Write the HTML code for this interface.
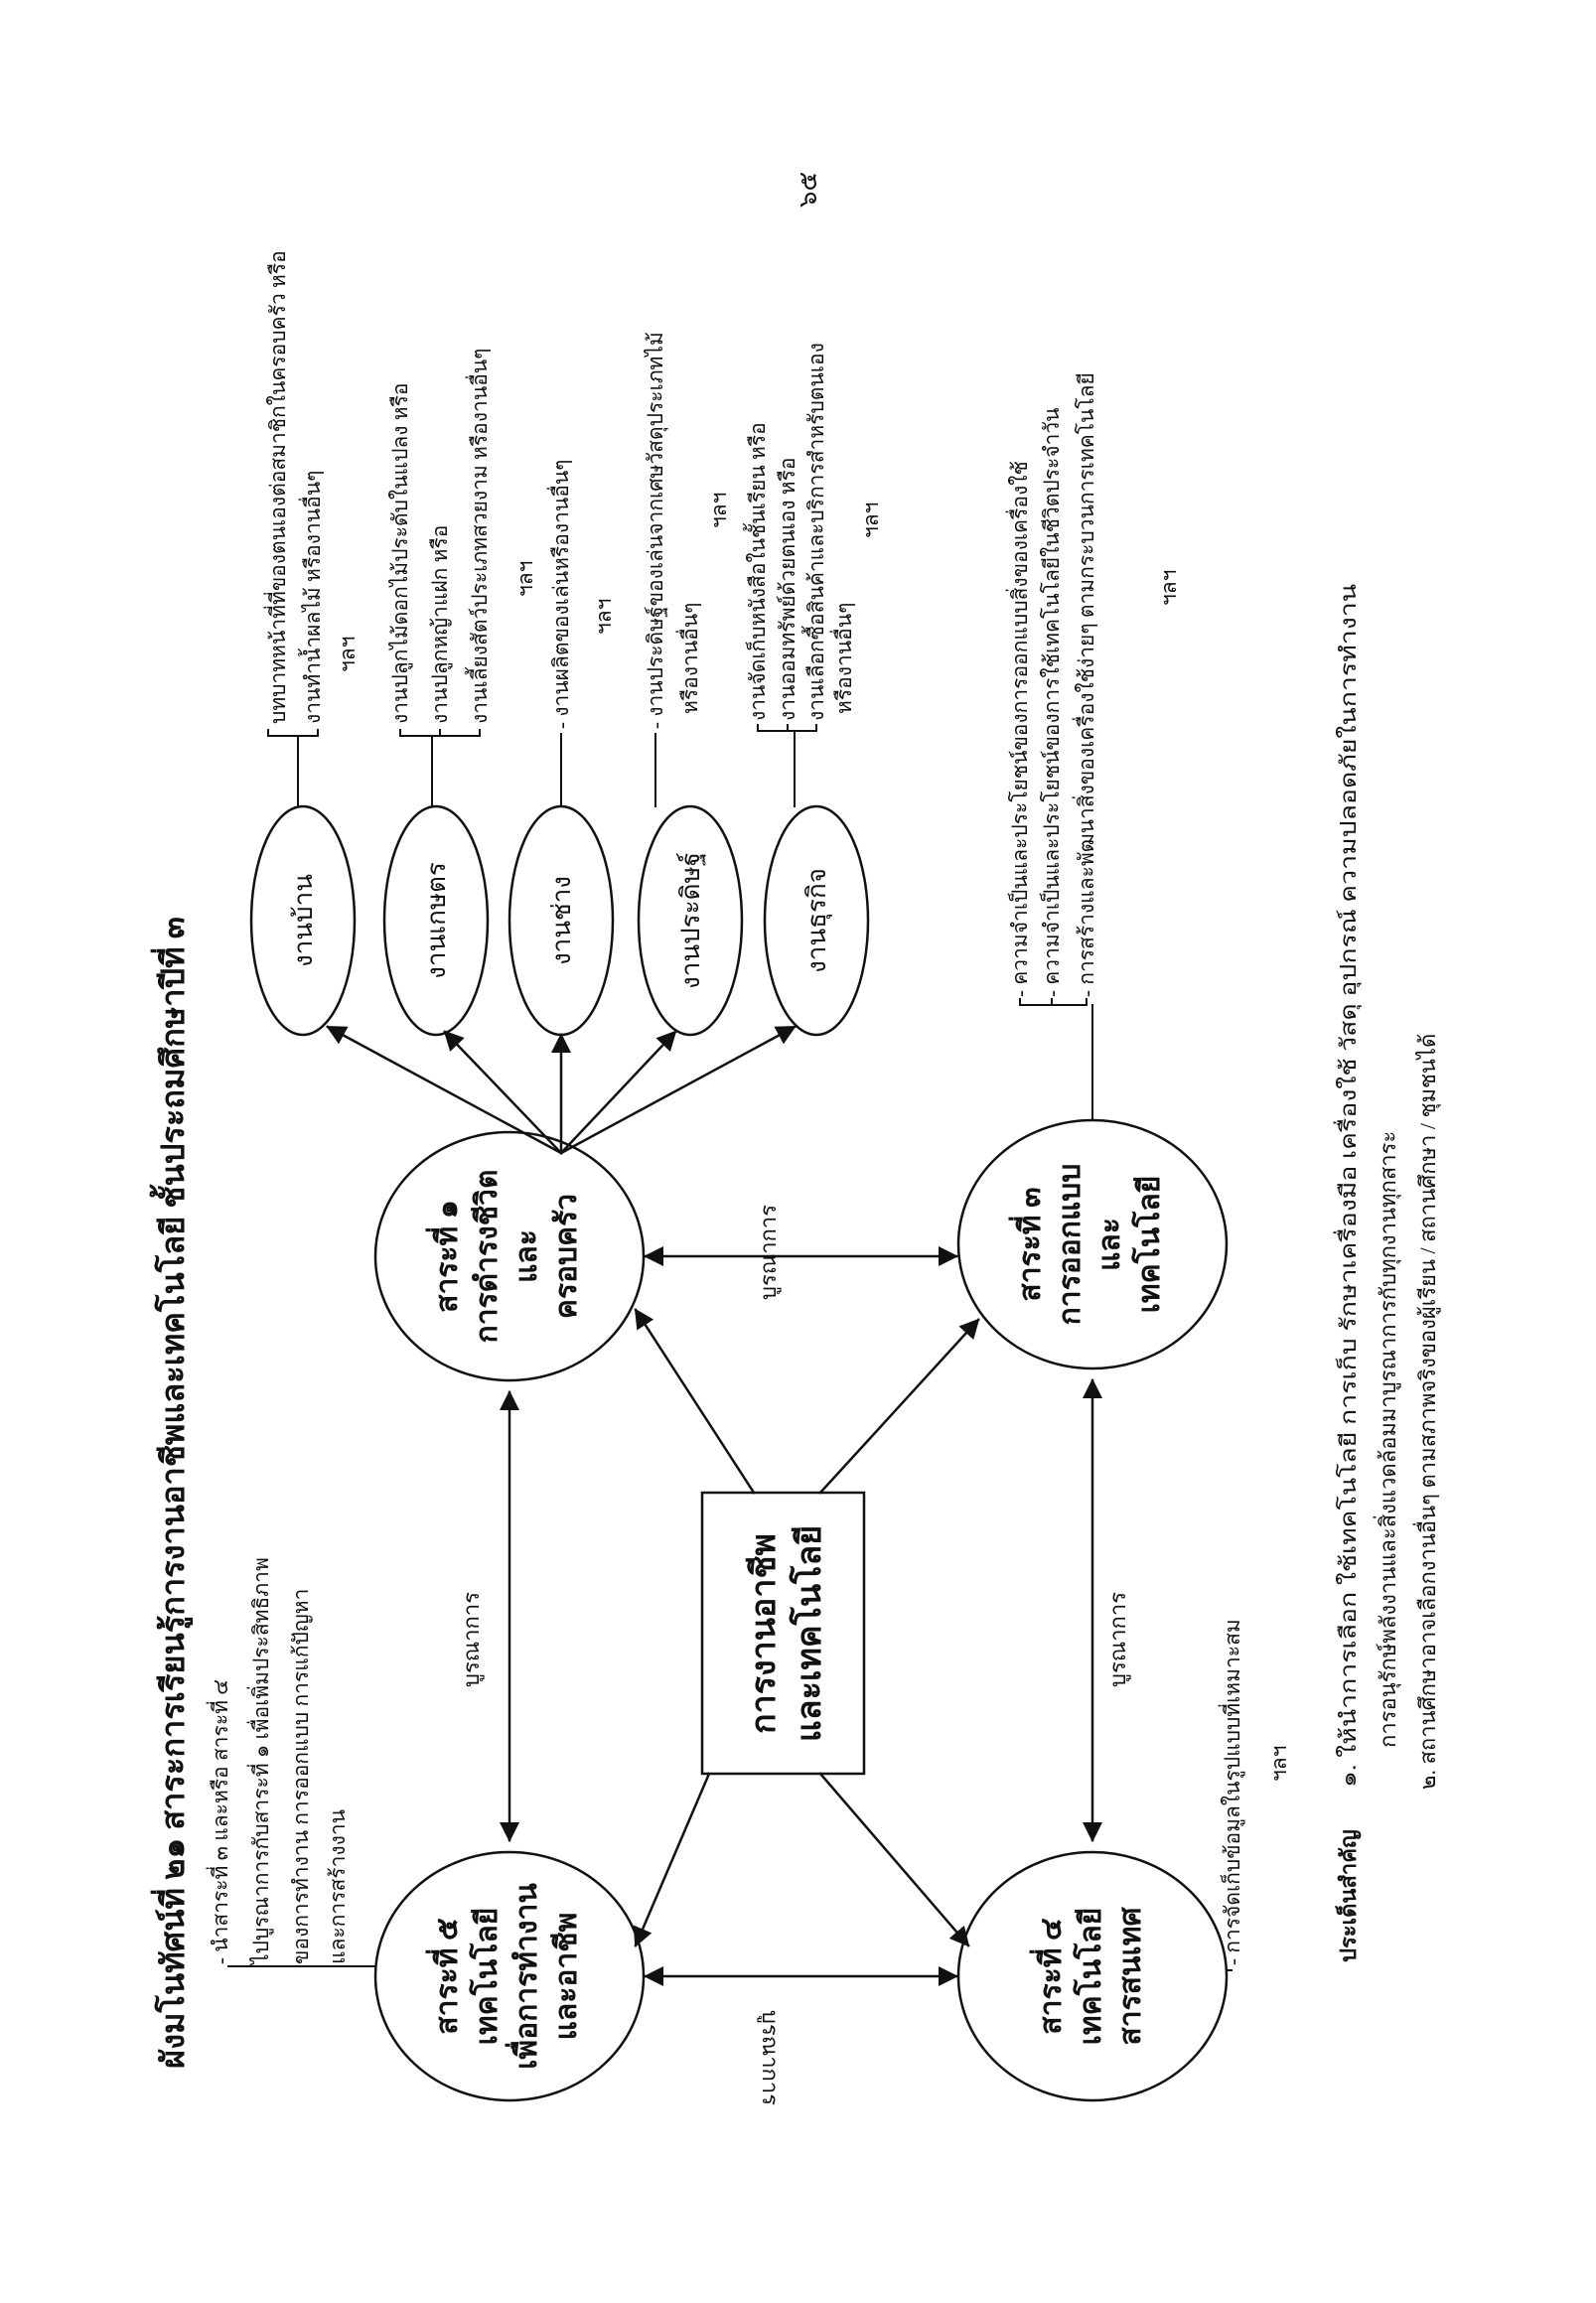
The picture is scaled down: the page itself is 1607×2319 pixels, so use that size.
<!DOCTYPE html>
<html><head><meta charset="utf-8"><style>
html,body{margin:0;padding:0;background:#fff;}
svg{display:block;}
text{font-family:"Liberation Serif","Noto Serif CJK SC","Noto Sans CJK SC",serif;fill:#111;}
.b{font-weight:bold;}
</style></head><body>
<svg width="1607" height="2319" viewBox="0 0 1607 2319" xmlns="http://www.w3.org/2000/svg">
<defs>
<marker id="ar" viewBox="0 0 10 10" refX="9" refY="5" markerWidth="9" markerHeight="9" orient="auto-start-reverse" markerUnits="userSpaceOnUse">
<path d="M0,0 L10,5 L0,10 z" fill="#111"/></marker>
<marker id="ar2" viewBox="0 0 10 10" refX="9" refY="5" markerWidth="20" markerHeight="20" orient="auto-start-reverse" markerUnits="userSpaceOnUse">
<path d="M0,0 L10,5 L0,10 z" fill="#111"/></marker>
</defs>
<g transform="translate(0,2319) rotate(-90)" stroke-linecap="square">
<!-- title -->
<text x="236" y="185" class="b" font-size="32" textLength="1160" lengthAdjust="spacingAndGlyphs">ผังมโนทัศน์ที่ ๒๑ สาระการเรียนรู้การงานอาชีพและเทคโนโลยี ชั้นประถมศึกษาปีที่ ๓</text>
<text x="2110" y="822" font-size="26">๖๕</text>

<!-- circles -->
<g fill="none" stroke="#111" stroke-width="2.5">
<ellipse cx="1054" cy="513" rx="125" ry="135"/>
<ellipse cx="1066" cy="1100" rx="125" ry="135"/>
<ellipse cx="329" cy="1100" rx="125" ry="135"/>
<ellipse cx="329" cy="513" rx="125" ry="135"/>
<rect x="533" y="707" width="283" height="163"/>
<ellipse cx="1392" cy="305" rx="115" ry="52"/>
<ellipse cx="1392" cy="439" rx="115" ry="52"/>
<ellipse cx="1392" cy="565" rx="115" ry="52"/>
<ellipse cx="1392" cy="695" rx="115" ry="52"/>
<ellipse cx="1392" cy="822" rx="115" ry="52"/>
</g>
<g class="b" font-size="30" text-anchor="middle">
<text x="1054" y="460">สาระที่ ๑</text><text x="1054" y="500">การดำรงชีวิต</text><text x="1054" y="540">และ</text><text x="1054" y="580">ครอบครัว</text>
<text x="1066" y="1047">สาระที่ ๓</text><text x="1066" y="1087">การออกแบบ</text><text x="1066" y="1127">และ</text><text x="1066" y="1167">เทคโนโลยี</text>
<text x="329" y="1068">สาระที่ ๔</text><text x="329" y="1108">เทคโนโลยี</text><text x="329" y="1148">สารสนเทศ</text>
<text x="329" y="460">สาระที่ ๕</text><text x="329" y="500">เทคโนโลยี</text><text x="329" y="540">เพื่อการทำงาน</text><text x="329" y="580">และอาชีพ</text>
<text x="674" y="780" font-size="34">การงานอาชีพ</text><text x="674" y="826" font-size="34">และเทคโนโลยี</text>
</g>
<g font-size="26" text-anchor="middle">
<text x="1392" y="314">งานบ้าน</text><text x="1392" y="448">งานเกษตร</text><text x="1392" y="574">งานช่าง</text><text x="1392" y="704">งานประดิษฐ์</text><text x="1392" y="831">งานธุรกิจ</text>
</g>

<!-- connectors -->
<g stroke="#111" stroke-width="2.5" fill="none">
<line x1="1054" y1="650" x2="1054" y2="963" marker-start="url(#ar2)" marker-end="url(#ar2)"/>
<line x1="917" y1="513" x2="466" y2="513" marker-start="url(#ar2)" marker-end="url(#ar2)"/>
<line x1="929" y1="1100" x2="466" y2="1100" marker-start="url(#ar2)" marker-end="url(#ar2)"/>
<line x1="329" y1="650" x2="329" y2="963" marker-start="url(#ar2)" marker-end="url(#ar2)"/>
<line x1="816" y1="759" x2="1000" y2="640" marker-end="url(#ar2)"/>
<line x1="816" y1="826" x2="990" y2="985" marker-end="url(#ar2)"/>
<line x1="533" y1="714" x2="360" y2="640" marker-end="url(#ar2)"/>
<line x1="533" y1="826" x2="360" y2="975" marker-end="url(#ar2)"/>
<line x1="1158" y1="565" x2="1285" y2="330" marker-end="url(#ar2)"/>
<line x1="1158" y1="565" x2="1280" y2="448" marker-end="url(#ar2)"/>
<line x1="1158" y1="565" x2="1277" y2="565" marker-end="url(#ar2)"/>
<line x1="1158" y1="565" x2="1280" y2="680" marker-end="url(#ar2)"/>
<line x1="1158" y1="565" x2="1285" y2="800" marker-end="url(#ar2)"/>
</g>
<g stroke="#111" stroke-width="2" fill="none">
<path d="M1507,300 H1578 M1578,270 V320 M1578,270 h6 M1578,320 h6"/>
<path d="M1507,435 H1578 M1578,403 V483 M1578,403 h6 M1578,443 h6 M1578,483 h6"/>
<path d="M1507,565 H1580"/>
<path d="M1507,660 H1580"/>
<path d="M1507,800 H1583 M1583,763 V822 M1583,763 h6 M1583,793 h6 M1583,822 h6"/>
<path d="M1191,1100 H1307 M1307,1027 V1094 M1307,1027 h6 M1307,1059 h6 M1307,1094 h6"/>
<path d="M335,1235 V1240"/>
<path d="M339,378 V230"/>
</g>

<!-- integration labels -->
<g font-size="22">
<text x="1010" y="781">บูรณาการ</text>
<text x="620" y="482">บูรณาการ</text>
<text x="620" y="1133">บูรณาการ</text>
<text transform="translate(295,768) rotate(180)">บูรณาการ</text>
</g>

<!-- lists -->
<g font-size="21">
<text x="1590" y="287">บทบาทหน้าที่ที่ของตนเองต่อสมาชิกในครอบครัว หรือ</text>
<text x="1590" y="322">งานทำน้ำผลไม้ หรืองานอื่นๆ</text>
<text x="1642" y="357">ฯลฯ</text>
<text x="1590" y="410">งานปลูกไม้ดอกไม้ประดับในแปลง หรือ</text>
<text x="1590" y="450">งานปลูกหญ้าแฝก หรือ</text>
<text x="1590" y="490">งานเลี้ยงสัตว์ประเภทสวยงาม หรืองานอื่นๆ</text>
<text x="1718" y="536">ฯลฯ</text>
<text x="1585" y="572">- งานผลิตของเล่นหรืองานอื่นๆ</text>
<text x="1680" y="615">ฯลฯ</text>
<text x="1585" y="667">- งานประดิษฐ์ของเล่นจากเศษวัสดุประเภทไม้</text>
<text x="1600" y="702">หรืองานอื่นๆ</text>
<text x="1787" y="731">ฯลฯ</text>
<text x="1593" y="770">งานจัดเก็บหนังสือในชั้นเรียน หรือ</text>
<text x="1593" y="800">งานออมทรัพย์ด้วยตนเอง หรือ</text>
<text x="1593" y="829">งานเลือกซื้อสินค้าและบริการสำหรับตนเอง</text>
<text x="1600" y="857">หรืองานอื่นๆ</text>
<text x="1777" y="884">ฯลฯ</text>
<text x="1315" y="1034">- ความจำเป็นและประโยชน์ของการออกแบบสิ่งของเครื่องใช้</text>
<text x="1315" y="1066">- ความจำเป็นและประโยชน์ของการใช้เทคโนโลยีในชีวิตประจำวัน</text>
<text x="1315" y="1101">- การสร้างและพัฒนาสิ่งของเครื่องใช้ง่ายๆ ตามกระบวนการเทคโนโลยี</text>
<text x="1709" y="1184">ฯลฯ</text>
<text x="340" y="1248">- การจัดเก็บข้อมูลในรูปแบบที่เหมาะสม</text>
<text x="525" y="1295">ฯลฯ</text>
<text x="341" y="229">- นำสาระที่ ๓ และหรือ สาระที่ ๔</text>
<text x="341" y="270">ไปบูรณาการกับสาระที่ ๑ เพื่อเพิ่มประสิทธิภาพ</text>
<text x="341" y="310">ของการทำงาน การออกแบบ การแก้ปัญหา</text>
<text x="341" y="347">และการสร้างงาน</text>
</g>

<!-- notes -->
<g font-size="22">
<text x="343" y="1365" class="b">ประเด็นสำคัญ</text>
<text x="519" y="1365" textLength="1212" lengthAdjust="spacingAndGlyphs">๑. ให้นำการเลือก ใช้เทคโนโลยี การเก็บ รักษาเครื่องมือ เครื่องใช้ วัสดุ อุปกรณ์ ความปลอดภัยในการทำงาน</text>
<text x="559" y="1405">การอนุรักษ์พลังงานและสิ่งแวดล้อมมาบูรณาการกับทุกงานทุกสาระ</text>
<text x="517" y="1445">๒. สถานศึกษาอาจเลือกงานอื่นๆ ตามสภาพจริงของผู้เรียน / สถานศึกษา / ชุมชนได้</text>
</g>
</g>
</svg>
</body></html>
